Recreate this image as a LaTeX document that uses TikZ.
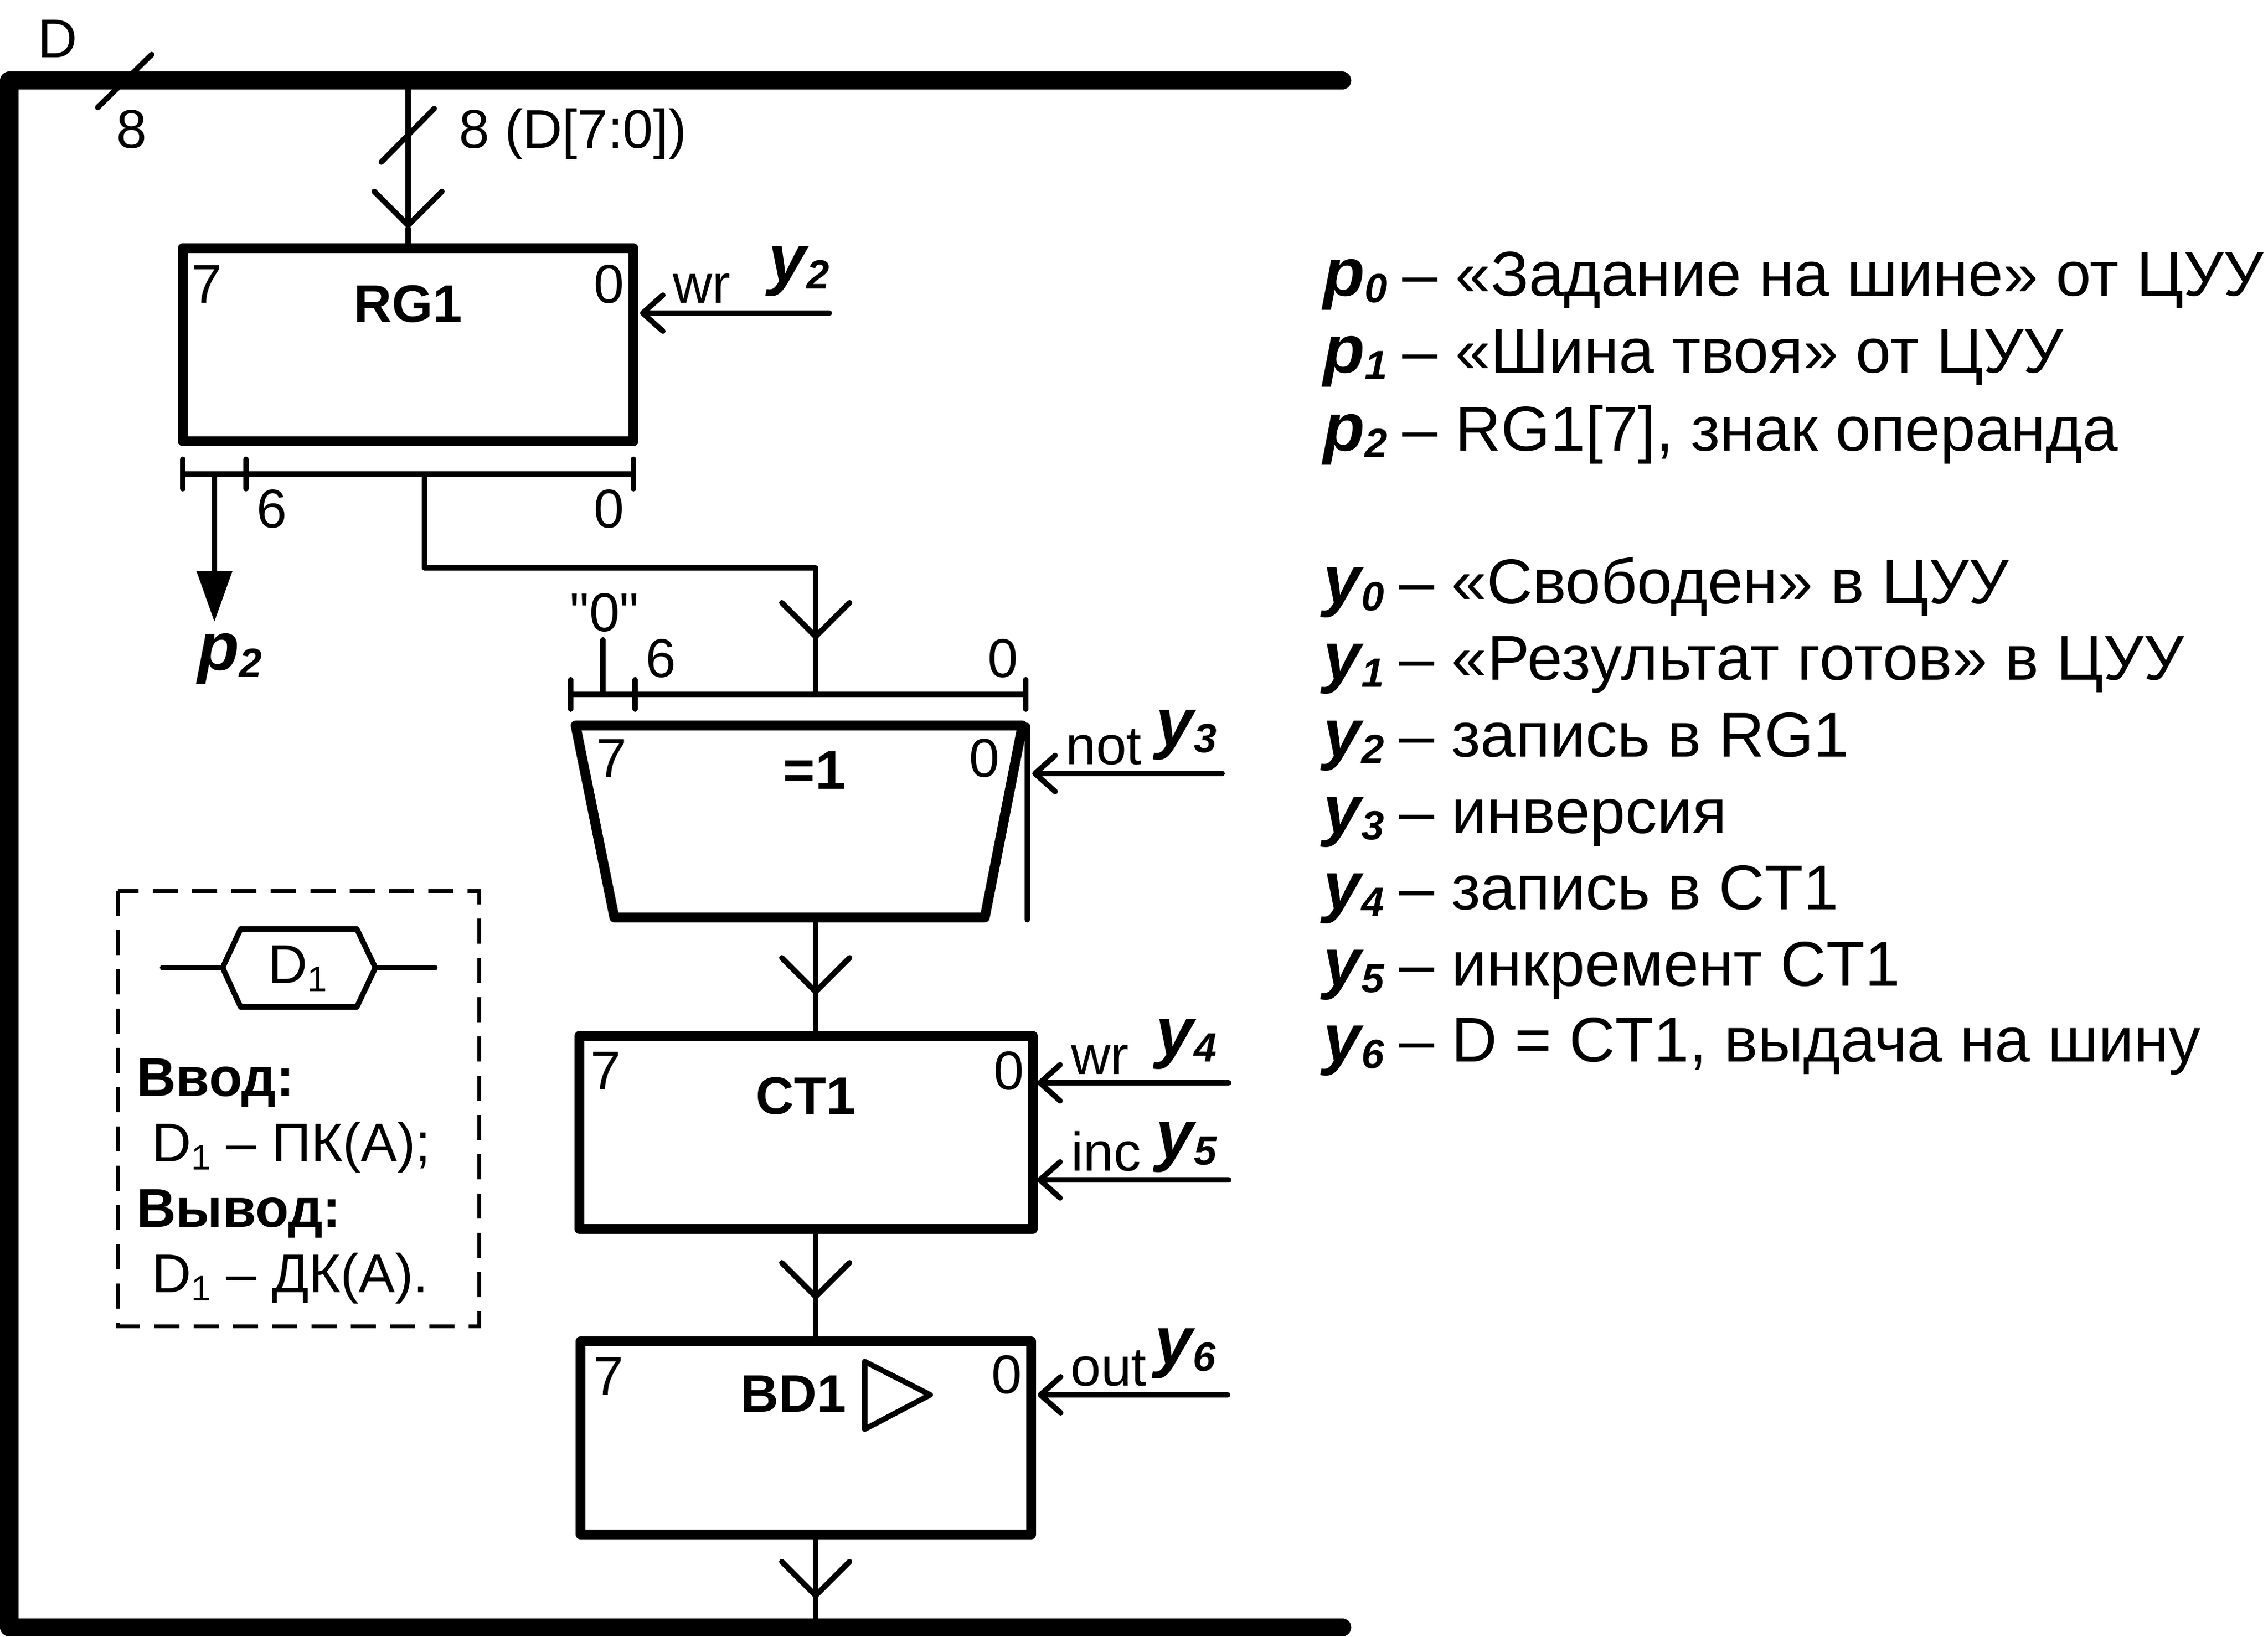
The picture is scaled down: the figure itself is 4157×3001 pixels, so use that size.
\documentclass[tikz,border=0pt]{standalone}
\usepackage{fontspec}
\setmainfont{Liberation Sans}
\newfontfamily\rawfont{Liberation Sans}
\usetikzlibrary{arrows.meta}

\newcommand{\sg}[2]{{\fontsize{35.5}{40}\selectfont\bfseries\itshape #1\raisebox{-.12cm}{\fontsize{21.3}{24}\selectfont #2}}}
\newcommand{\lsg}[2]{\sg{#1}{#2}\kern-.05cm\relax}
\newcommand{\subone}{\raisebox{-.15cm}{\fontsize{18.5}{20}\selectfont 1}}

\tikzset{
  wire/.style={line width=.1cm,line cap=round,line join=round},
  bus/.style={line width=.33cm,line cap=round,line join=round},
  block/.style={draw,line width=.18cm,line join=round,inner sep=0},
  lbl/.style={font=\fontsize{28.45}{34}\selectfont,inner sep=0,anchor=base west},
  bold/.style={lbl,font=\fontsize{28.45}{34}\selectfont\bfseries},
  blockname/.style={lbl,font=\fontsize{27.5}{33}\selectfont\bfseries},
  big/.style={lbl,font=\fontsize{33}{38}\selectfont},
  busin/.style={wire,-{Straight Barb[length=.62cm,width=1.24cm,round]}},
  ctrl/.style={wire,-{Straight Barb[length=.37cm,width=.66cm,round]}}
}

\begin{document}
\begin{tikzpicture}[x=.01cm,y=-.01cm]
\useasboundingbox (0,0) rectangle (4157,3001);

\draw[bus] (2460,148) -- (17,148) -- (17,2983) -- (2460,2983);
\draw[wire] (179,197) -- (278,100);
\node[lbl] (dname) at (69,106) {D};
\node[lbl] (dwidth) at (213,272) {8};

\node[block,minimum width=8.25cm,minimum height=3.54cm] (RG1) at (748,632) {};
\node[blockname] (RG1name) at (648,591) {RG1};
\node[lbl] (RG1hi) at (351,556) {7};
\node[lbl] (RG1lo) at (1088,556) {0};
\coordinate (dtap) at (748,148);
\coordinate (rgtip) at (748,418);
\draw[busin] (dtap) -- (rgtip);
\draw[wire] (rgtip) -- (RG1.north);
\draw[wire] (699,297) -- (796,199);
\node[lbl] (dbits) at (841,272) {8 (D[7:0])};
\coordinate (y2end) at (1520,574);
\draw[ctrl] (y2end) -- (1173,574);
\node[lbl] (y2wr) at (1233,556) {wr};
\node[lbl] (y2) at (1408,518) {\sg{y}{2}};

\coordinate (rgl) at (335,869);
\coordinate (rgm) at (451,869);
\coordinate (rgr) at (1161,869);
\draw[wire] (rgl) -- (rgr);
\draw[wire] (rgl) ++(0,-27) -- ++(0,54);
\draw[wire] (rgm) ++(0,-27) -- ++(0,54);
\draw[wire] (rgr) ++(0,-27) -- ++(0,54);
\node[lbl] (rgsix) at (470,968) {6};
\node[lbl] (rgzero) at (1088,968) {0};
\coordinate (signtap) at (393,869);
\coordinate (signtip) at (393,1140);
\draw[wire,-{Triangle[length=.93cm,width=.63cm]}] (signtap) -- (signtip);
\node[lbl] (p2) at (362,1229) {\sg{p}{2}};

\coordinate (magtap) at (778,869);
\coordinate (xortip) at (1495,1172);
\coordinate (xl) at (1046,1273);
\coordinate (xm) at (1164,1273);
\coordinate (xc) at (1495,1273);
\coordinate (xr) at (1880,1273);
\draw[busin] (magtap) -- (778,1041) -- (1495,1041) -- (xortip);
\draw[wire] (xortip) -- (xc);
\draw[wire] (xl) -- (xr);
\draw[wire] (xl) ++(0,-27) -- ++(0,54);
\draw[wire] (xm) ++(0,-27) -- ++(0,54);
\draw[wire] (xr) ++(0,-27) -- ++(0,54);
\draw[wire] (1105,1173) -- (1105,1273);
\node[lbl] (zerobit) at (1044,1158) {\rawfont "0"};
\node[lbl] (xsix) at (1183,1242) {6};
\node[lbl] (xzero) at (1810,1242) {0};

\coordinate (xorb) at (1495,1682);
\draw[block] (1055,1330) -- (1874,1330) -- (1805,1682) -- (1126,1682) -- cycle;
\draw[wire] (1883,1330) -- (1883,1686);
\node[bold] (xorname) at (1435,1446) {=1};
\node[lbl] (xorhi) at (1093,1424) {7};
\node[lbl] (xorlo) at (1776,1424) {0};
\draw[ctrl] (2240,1418) -- (1892,1418);
\node[lbl] (y3not) at (1953,1402) {not};
\node[lbl] (y3) at (2118,1367) {\sg{y}{3}};

\node[block,minimum width=8.31cm,minimum height=3.54cm] (CT1) at (1477.5,2076) {};
\node[blockname] (CT1name) at (1385,2042) {CT1};
\node[lbl] (CT1hi) at (1082,1997) {7};
\node[lbl] (CT1lo) at (1821,1997) {0};
\coordinate (cttip) at (1495,1823);
\draw[busin] (xorb) -- (cttip);
\draw[wire] (cttip) -- (1495,1899);
\draw[ctrl] (2252,1985) -- (1901,1985);
\node[lbl] (y4wr) at (1963,1969) {wr};
\node[lbl] (y4) at (2118,1934) {\sg{y}{4}};
\draw[ctrl] (2252,2163) -- (1901,2163);
\node[lbl] (y5inc) at (1963,2146) {inc};
\node[lbl] (y5) at (2118,2123) {\sg{y}{5}};

\node[block,minimum width=8.26cm,minimum height=3.54cm] (BD1) at (1477,2636) {};
\node[blockname] (BD1name) at (1357,2588) {BD1};
\node[lbl] (BD1hi) at (1087,2557) {7};
\node[lbl] (BD1lo) at (1817,2554) {0};
\draw[wire] (1585,2496) -- (1705,2557) -- (1585,2620) -- cycle;
\coordinate (bdtip) at (1495,2382);
\draw[busin] (1495,2253) -- (bdtip);
\draw[wire] (bdtip) -- (1495,2459);
\draw[ctrl] (2250,2557) -- (1902,2557);
\node[lbl] (y6out) at (1962,2540) {out};
\node[lbl] (y6) at (2116,2501) {\sg{y}{6}};
\coordinate (dtail) at (1495,2930);
\draw[busin] (1495,2813) -- (dtail);
\draw[wire] (dtail) -- (1495,2983);

\draw[line width=.07cm,dash pattern=on .46cm off .26cm] (216,1633) rectangle (878,2431);
\coordinate (hexl) at (408,1774);
\coordinate (hexr) at (688,1774);
\draw[wire] (hexl) -- (441,1703) -- (654,1703) -- (hexr) -- (654,1846) -- (441,1846) -- cycle;
\draw[wire] (298,1774) -- (hexl);
\draw[wire] (hexr) -- (797,1774);
\node[lbl] (hexname) at (491,1802) {D\subone};
\node[bold] (inhead) at (250,2009) {Ввод:};
\node[lbl] (inform) at (278,2129) {D\subone{} – ПК(А);};
\node[bold] (outhead) at (250,2249) {Вывод:};
\node[lbl] (outform) at (278,2369) {D\subone{} – ДК(А).};

\node[big] (lp0) at (2425,543) {\lsg{p}{0} – «Задание на шине» от ЦУУ};
\node[big] (lp1) at (2425,684) {\lsg{p}{1} – «Шина твоя» от ЦУУ};
\node[big] (lp2) at (2425,827) {\lsg{p}{2} – RG1[7], знак операнда};
\node[big] (ly0) at (2425,1107) {\lsg{y}{0} – «Свободен» в ЦУУ};
\node[big] (ly1) at (2425,1247) {\lsg{y}{1} – {\addfontfeature{LetterSpace=.8}«Результат готов»} в ЦУУ};
\node[big] (ly2) at (2425,1387) {\lsg{y}{2} – запись в RG1};
\node[big] (ly3) at (2425,1527) {\lsg{y}{3} – инверсия};
\node[big] (ly4) at (2425,1667) {\lsg{y}{4} – запись в CT1};
\node[big] (ly5) at (2425,1807) {\lsg{y}{5} – инкремент CT1};
\node[big] (ly6) at (2425,1946) {\lsg{y}{6} – D = CT1, выдача на шину};

\end{tikzpicture}
\end{document}
